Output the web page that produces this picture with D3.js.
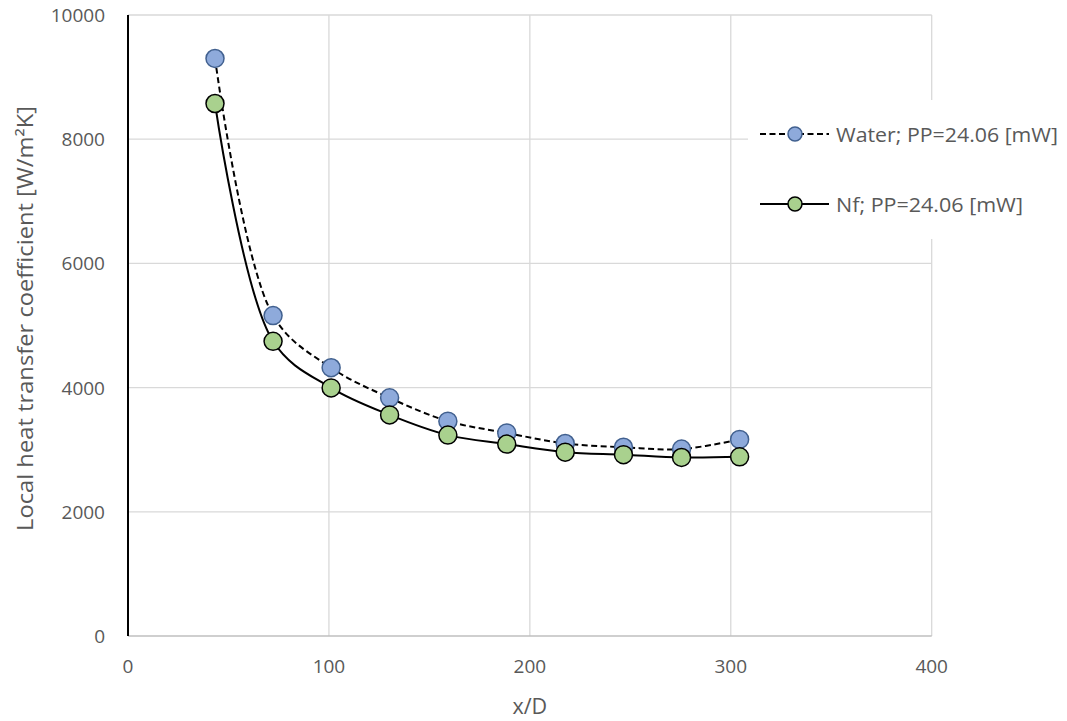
<!DOCTYPE html>
<html>
<head>
<meta charset="utf-8">
<script src="https://cdn.jsdelivr.net/npm/d3@7"></script>
<style>
  html, body { margin: 0; padding: 0; background: #fff; }
  svg text { font-family: "Open Sans", "Noto Sans", sans-serif; fill: #595959; }
</style>
</head>
<body>
<svg id="chart" width="1067" height="721"></svg>
<script>
// ---- data ----
const xD = [43.3, 72.2, 101.1, 130.2, 159.2, 188.5, 217.6, 246.6, 275.5, 304.4];
const water = [9300, 5160, 4320, 3835, 3460, 3270, 3100, 3040, 3010, 3165];
const nf = [8575, 4745, 3995, 3560, 3235, 3090, 2960, 2920, 2875, 2885];
const seriesNames = ["Water; PP=24.06 [mW]", "Nf; PP=24.06 [mW]"];
const xTicks = [0, 100, 200, 300, 400];
const yTicks = [0, 2000, 4000, 6000, 8000, 10000];
const xTitle = "x/D";
const yTitle = "Local heat transfer coefficient [W/m\u00B2K]";

(function () {
// ---- layout ----
const svg = d3.select("#chart");
const pL = 128, pR = 931.7, pT = 15, pB = 636;
const x = d3.scaleLinear().domain([0, 400]).range([pL, pR]);
const y = d3.scaleLinear().domain([0, 10000]).range([pB, pT]);

// gridlines
const grid = svg.append("g");
grid.selectAll("line.h").data(yTicks.filter(d => d > 0)).join("line")
  .attr("x1", pL).attr("x2", pR)
  .attr("y1", d => y(d)).attr("y2", d => y(d))
  .attr("stroke", "#d9d9d9").attr("stroke-width", 1.3);
grid.selectAll("line.v").data(xTicks.filter(d => d > 0)).join("line")
  .attr("x1", d => x(d)).attr("x2", d => x(d))
  .attr("y1", pT).attr("y2", pB)
  .attr("stroke", "#d9d9d9").attr("stroke-width", 1.3);

// bottom axis line
svg.append("line").attr("x1", pL).attr("x2", pR)
  .attr("y1", pB).attr("y2", pB)
  .attr("stroke", "#bfbfbf").attr("stroke-width", 1.5);
// left axis line
svg.append("line").attr("x1", pL).attr("x2", pL)
  .attr("y1", pT).attr("y2", pB)
  .attr("stroke", "#000").attr("stroke-width", 2);

// tick labels
svg.append("g").selectAll("text").data(yTicks).join("text")
  .attr("x", 105).attr("y", d => y(d))
  .attr("text-anchor", "end").attr("dominant-baseline", "central")
  .attr("font-size", 19).text(d => d);
svg.append("g").selectAll("text").data(xTicks).join("text")
  .attr("x", d => x(d)).attr("y", 666)
  .attr("text-anchor", "middle").attr("dominant-baseline", "central")
  .attr("font-size", 19).text(d => d);

// axis titles
svg.append("text").attr("x", (pL + pR) / 2).attr("y", 705)
  .attr("text-anchor", "middle").attr("dominant-baseline", "central")
  .attr("font-size", 21.5).text(xTitle);
svg.append("text")
  .attr("transform", `translate(24,${(pT + pB) / 2 - 7}) rotate(-90)`)
  .attr("text-anchor", "middle").attr("dominant-baseline", "central")
  .attr("font-size", 21.5).attr("textLength", 425).attr("lengthAdjust", "spacingAndGlyphs")
  .text(yTitle);

// series
const line = (vals) => d3.line()
  .x((d, i) => x(xD[i])).y(d => y(d))
  .curve(d3.curveCatmullRom.alpha(0.5))(vals);

const styles = [
  { vals: water, dash: "6,3.5", fill: "#8eaadb", stroke: "#41608f" },
  { vals: nf, dash: null, fill: "#a9d18e", stroke: "#000" }
];

styles.forEach(s => {
  svg.append("path").attr("d", line(s.vals))
    .attr("fill", "none").attr("stroke", "#000").attr("stroke-width", 2)
    .attr("stroke-dasharray", s.dash);
});
styles.forEach(s => {
  svg.append("g").selectAll("circle").data(s.vals).join("circle")
    .attr("cx", (d, i) => x(xD[i])).attr("cy", d => y(d)).attr("r", 9)
    .attr("fill", s.fill).attr("stroke", s.stroke).attr("stroke-width", 1.5);
});

// legend
const lg = svg.append("g");
lg.append("rect").attr("x", 748).attr("y", 100).attr("width", 319).attr("height", 139)
  .attr("fill", "#fff");
const legY = [134, 204];
const legW = [222, 187];
styles.forEach((s, i) => {
  lg.append("line").attr("x1", 760).attr("x2", 829)
    .attr("y1", legY[i]).attr("y2", legY[i])
    .attr("stroke", "#000").attr("stroke-width", 2).attr("stroke-dasharray", s.dash);
  lg.append("circle").attr("cx", 795).attr("cy", legY[i]).attr("r", 7)
    .attr("fill", s.fill).attr("stroke", s.stroke).attr("stroke-width", 1.5);
  lg.append("text").attr("x", 836).attr("y", legY[i])
    .attr("dominant-baseline", "central").attr("font-size", 20.5)
    .attr("textLength", legW[i]).attr("lengthAdjust", "spacingAndGlyphs")
    .text(seriesNames[i]);
});
})();
</script>
</body>
</html>
